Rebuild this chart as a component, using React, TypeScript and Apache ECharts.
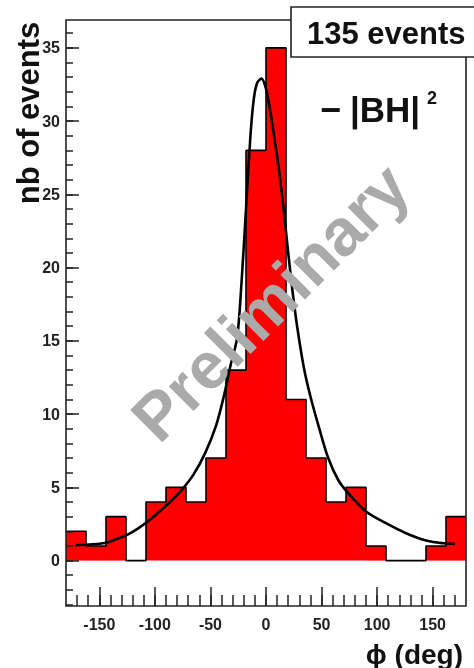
import React, { useEffect, useRef } from "react";
import * as echarts from "echarts";

// ---- data ----
const binEdges = [-180, -162, -144, -126, -108, -90, -72, -54, -36, -18, 0, 18, 36, 54, 72, 90, 108, 126, 144, 162, 180];
const binCounts = [2, 1, 3, 0, 4, 5, 4, 7, 13, 28, 35, 11, 7, 4, 5, 1, 0, 0, 1, 3];

const curveX = [-172, -160, -145, -135, -125, -115, -105, -95, -85, -75, -65, -55, -45, -38, -32, -26, -22, -18, -14, -11, -8, -4, 0, 4, 8, 12, 16, 20, 24, 28, 34, 40, 48, 56, 65, 74, 90, 108, 126, 145, 160, 170];
const curveY = [1.05, 1.1, 1.2, 1.45, 1.75, 2.2, 2.75, 3.4, 4.1, 4.9, 5.9, 7.3, 9.2, 11.2, 13.3, 15.2, 19.0, 24.0, 29.0, 31.5, 32.6, 32.9, 32.2, 30.6, 28.6, 26.5, 23.9, 21.0, 18.3, 16.0, 13.2, 11.2, 9.0, 7.0, 5.5, 4.6, 3.35, 2.55, 1.87, 1.35, 1.18, 1.14];

const xMajorTicks = [-150, -100, -50, 0, 50, 100, 150];
const xMinorTicks = [-170, -160, -150, -140, -130, -120, -110, -100, -90, -80, -70, -60, -50, -40, -30, -20, -10, 0, 10, 20, 30, 40, 50, 60, 70, 80, 90, 100, 110, 120, 130, 140, 150, 160, 170];
const yMajorTicks = [0, 5, 10, 15, 20, 25, 30, 35];
const yMinorTicks = [-3, -2, -1, 0, 1, 2, 3, 4, 5, 6, 7, 8, 9, 10, 11, 12, 13, 14, 15, 16, 17, 18, 19, 20, 21, 22, 23, 24, 25, 26, 27, 28, 29, 30, 31, 32, 33, 34, 35, 36];

const X_MIN = -180;
const X_MAX = 180;
const Y_MIN = -3.1;
const Y_MAX = 36.9;

const FONT = "'Liberation Sans', Arial, Helvetica, sans-serif";
const INK = "#222";

export default function App() {
  const ref = useRef<HTMLDivElement>(null);
  useEffect(() => {
    if (!ref.current) return;
    const chart = echarts.init(ref.current, null, { renderer: "svg" });
    const barData = binCounts.map((v, i) => [binEdges[i], binEdges[i + 1], v]);
    const outline = binEdges.map((e, i) => [e, binCounts[Math.min(i, binCounts.length - 1)]]);
    const curve = curveX.map((x, i) => [x, curveY[i]]);
    const labelStyle = { fontFamily: FONT, fontWeight: "bold" as const, fontSize: 16, color: INK };
    const noLine = { show: false, onZero: false };
    chart.setOption({
      animation: false,
      grid: { left: 66, right: 8, top: 20, bottom: 62, containLabel: false },
      xAxis: [
        {
          type: "value", min: X_MIN, max: X_MAX, position: "bottom", z: 10,
          axisLine: noLine,
          splitLine: { show: false },
          axisTick: { show: true, inside: true, length: 19, customValues: xMajorTicks, lineStyle: { color: INK, width: 1.5 } },
          axisLabel: { show: true, margin: 10, customValues: xMajorTicks, ...labelStyle },
        },
        {
          type: "value", min: X_MIN, max: X_MAX, position: "bottom", z: 10,
          axisLine: noLine,
          splitLine: { show: false },
          axisTick: { show: true, inside: true, length: 11, customValues: xMinorTicks, lineStyle: { color: INK, width: 1.5 } },
          axisLabel: { show: false },
        },
      ],
      yAxis: [
        {
          type: "value", min: Y_MIN, max: Y_MAX, position: "left", z: 10,
          axisLine: noLine,
          splitLine: { show: false },
          axisTick: { show: true, inside: true, length: 13, customValues: yMajorTicks, lineStyle: { color: INK, width: 1.5 } },
          axisLabel: { show: true, margin: 6, customValues: yMajorTicks, ...labelStyle },
        },
        {
          type: "value", min: Y_MIN, max: Y_MAX, position: "left", z: 10,
          axisLine: noLine,
          splitLine: { show: false },
          axisTick: { show: true, inside: true, length: 7, customValues: yMinorTicks, lineStyle: { color: INK, width: 1.5 } },
          axisLabel: { show: false },
        },
      ],
      series: [
        {
          type: "custom",
          xAxisIndex: 0,
          yAxisIndex: 0,
          z: 2,
          data: barData,
          encode: { x: [0, 1], y: 2 },
          renderItem: (params: any, api: any) => {
            const x0 = api.value(0);
            const x1 = api.value(1);
            const v = api.value(2);
            const p0 = api.coord([x0, 0]);
            const p1 = api.coord([x1, v]);
            return {
              type: "rect",
              shape: { x: p0[0], y: p1[1], width: p1[0] - p0[0], height: p0[1] - p1[1] },
              style: { fill: "#ff0000", stroke: "none" },
            };
          },
        },
        {
          type: "line",
          xAxisIndex: 0,
          yAxisIndex: 0,
          z: 3,
          step: "end",
          symbol: "none",
          data: outline,
          lineStyle: { color: "#000", width: 1.6 },
        },
        {
          type: "line",
          xAxisIndex: 0,
          yAxisIndex: 0,
          z: 4,
          smooth: 0.3,
          symbol: "none",
          data: curve,
          lineStyle: { color: "#000", width: 2.6 },
        },
      ],
      graphic: [
        {
          type: "rect", z: 50,
          shape: { x: 66, y: 20, width: 400, height: 586 },
          style: { fill: "none", stroke: INK, lineWidth: 1.6 },
        },
        {
          type: "text", z: 100,
          x: 270, y: 302, rotation: Math.PI / 4,
          style: { text: "Preliminary", font: `bold 66px ${FONT}`, fill: "#aaaaaa", align: "center", verticalAlign: "middle" },
        },
        {
          type: "rect", z: 110,
          shape: { x: 291, y: 7, width: 200, height: 50 },
          style: { fill: "#fff", stroke: INK, lineWidth: 1.6 },
        },
        {
          type: "text", z: 111,
          x: 307, y: 33,
          style: { text: "135 events", font: `bold 31px ${FONT}`, fill: "#111", align: "left", verticalAlign: "middle" },
        },
        {
          type: "text", z: 111,
          x: 320, y: 109,
          style: { text: "\u2212", font: `bold 36px ${FONT}`, fill: "#111", align: "left", verticalAlign: "middle" },
        },
        {
          type: "text", z: 111,
          x: 350, y: 109,
          style: { text: "|BH|", font: `bold 35px ${FONT}`, fill: "#111", align: "left", verticalAlign: "middle" },
        },
        {
          type: "text", z: 111,
          x: 427, y: 98,
          style: { text: "2", font: `bold 18px ${FONT}`, fill: "#111", align: "left", verticalAlign: "middle" },
        },
        {
          type: "text", z: 111,
          x: 28, y: 113, rotation: Math.PI / 2,
          style: { text: "nb of events", font: `bold 31px ${FONT}`, fill: "#111", align: "center", verticalAlign: "middle" },
        },
        {
          type: "text", z: 111,
          x: 463, y: 654,
          style: { text: "\u03d5 (deg)", font: `bold 28px ${FONT}`, fill: "#111", align: "right", verticalAlign: "middle" },
        },
      ],
    });
    return () => chart.dispose();
  }, []);
  return <div ref={ref} style={{ position: "fixed", left: 0, top: 0, width: 474, height: 668 }} />;
}
